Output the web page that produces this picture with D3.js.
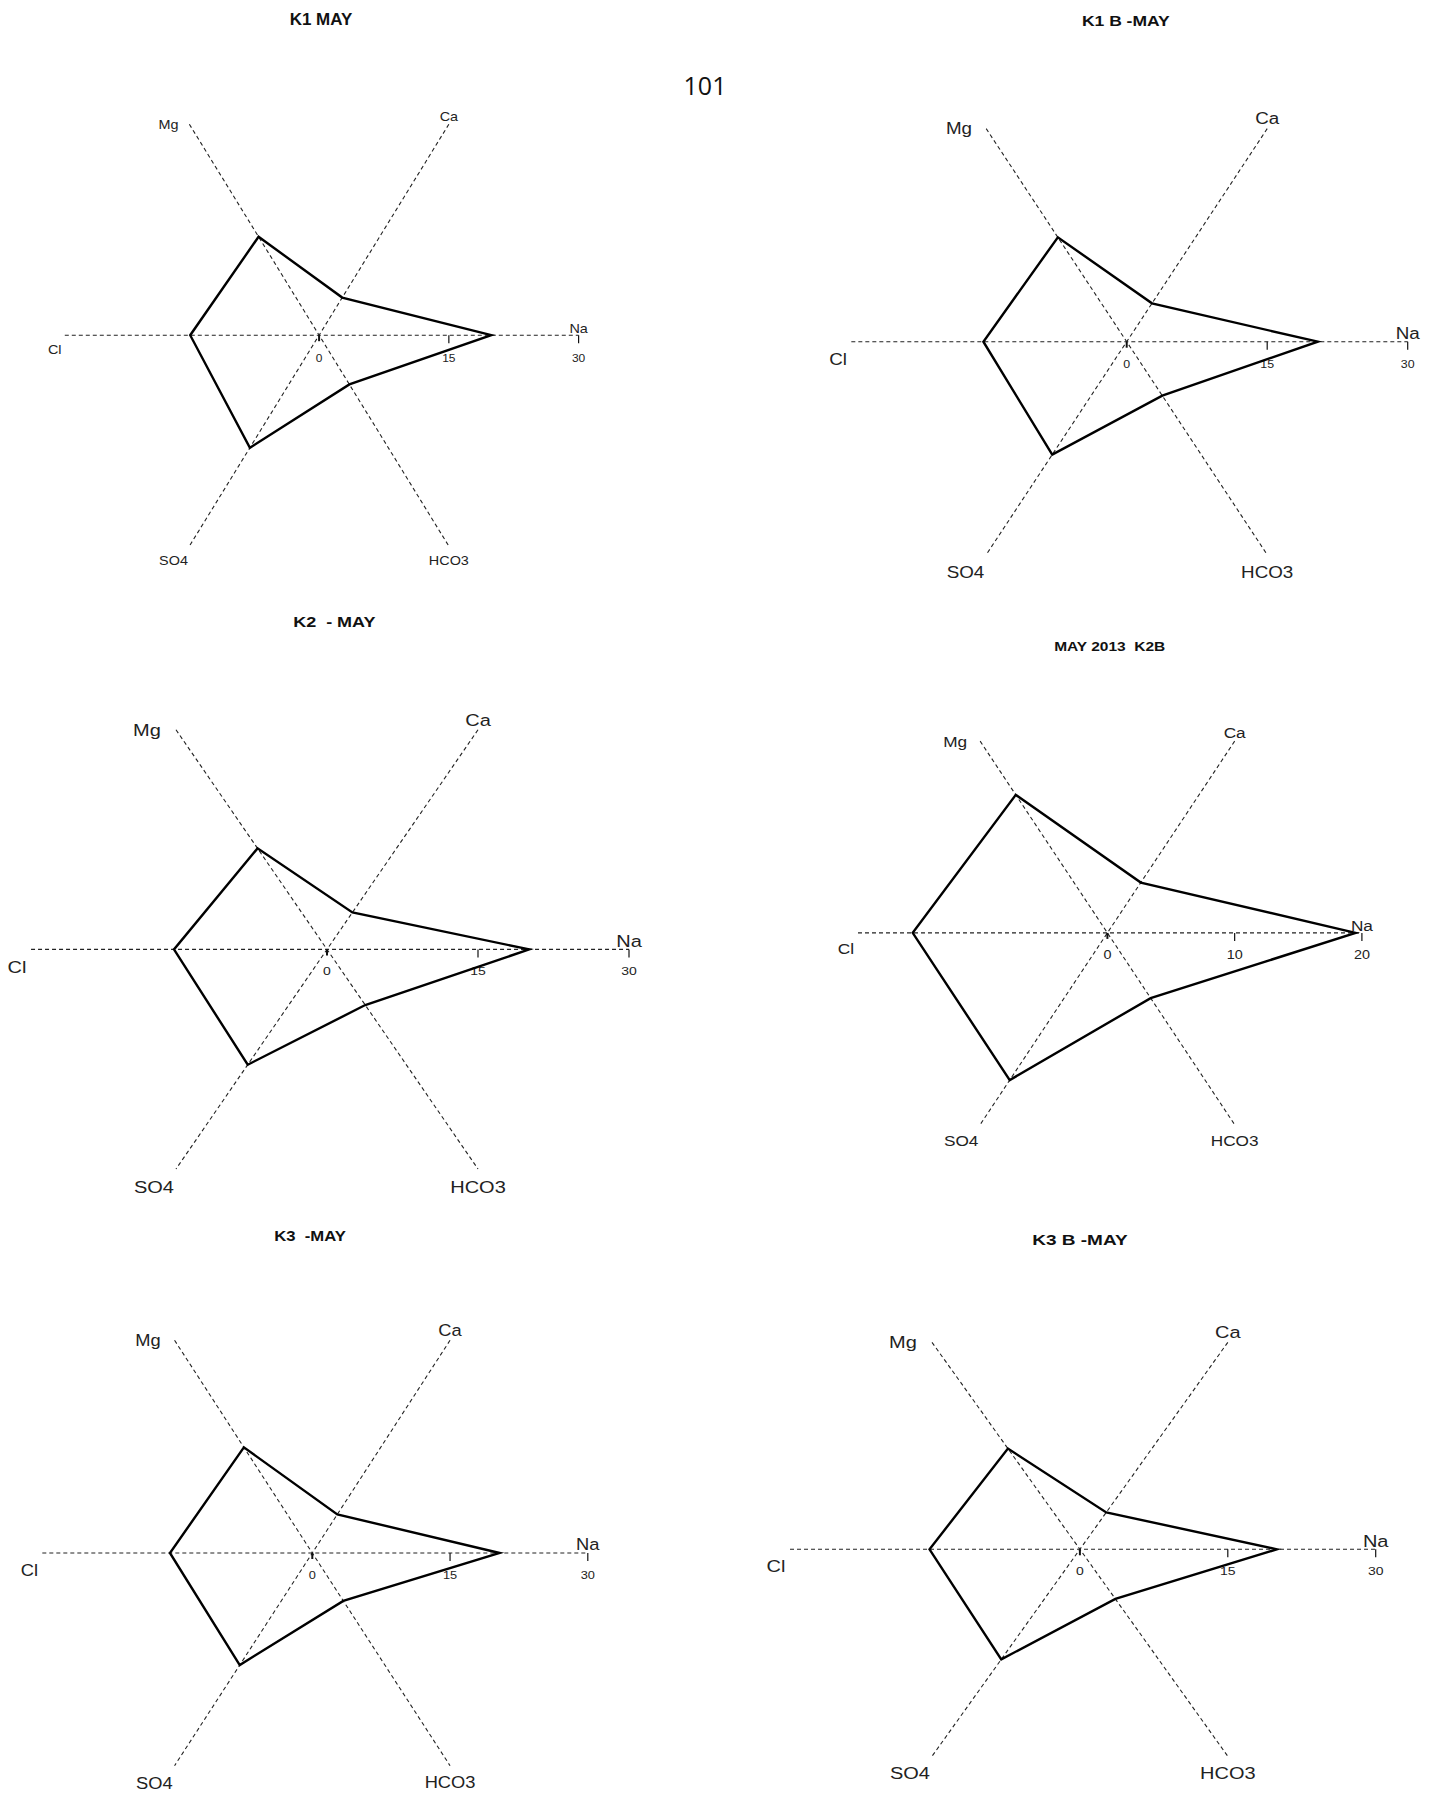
<!DOCTYPE html>
<html>
<head>
<meta charset="utf-8">
<script src="https://cdn.jsdelivr.net/npm/d3@7/dist/d3.min.js"></script>
<style>
  html, body { margin: 0; padding: 0; background: #fff; }
  svg { display: block; }
  text { white-space: pre; }
</style>
</head>
<body>
<svg id="chart" width="1439" height="1794"></svg>
<script>
// ---- data ----
const ions = ["Na", "Ca", "Mg", "Cl", "SO4", "HCO3"];
const titles = ["K1 MAY", "K1 B -MAY", "K2  - MAY", "MAY 2013  K2B", "K3  -MAY", "K3 B -MAY"];
const k1May  = [19.9, 5.35, 14.0, 14.9, 16.0, 7.0];
const k1bMay = [20.4, 5.4, 14.7, 15.3, 15.9, 7.6];
const k2May  = [20.1, 5.05, 13.8, 15.2, 15.75, 7.6];
const k2bMay = [19.5, 5.25, 14.4, 15.3, 15.35, 6.8];
const k3May  = [20.4, 5.45, 14.9, 15.5, 15.8, 6.75];
const k3bMay = [20.0, 5.35, 14.6, 15.25, 15.95, 7.2];
const ticks30 = [0, 15, 30];
const ticks20 = [0, 10, 20];
const pageNumber = "101";

const seriesList = [k1May, k1bMay, k2May, k2bMay, k3May, k3bMay];
const tickList = [ticks30, ticks30, ticks30, ticks20, ticks30, ticks30];

// ---- layout (positions / sizes) ----
const layout = [
  {cx: 319.1,  cy: 335.2,  rx: 259.5, ry: 243.6, fs: 14.4, tfs: 12,   tx: 321,    ty: 19.5,   tts: 17},
  {cx: 1126.7, cy: 341.7,  rx: 281,   ry: 246,   fs: 18.8, tfs: 12.4, tx: 1125.8, ty: 20,     tts: 17.5},
  {cx: 327,    cy: 949.4,  rx: 302,   ry: 253.6, fs: 20,   tfs: 14,   tx: 334.3,  ty: 621.8,  tts: 18},
  {cx: 1107.4, cy: 932.9,  rx: 254.5, ry: 221.4, fs: 17.2, tfs: 14.4, tx: 1109.7, ty: 645.9,  tts: 15.5},
  {cx: 312.3,  cy: 1553,   rx: 275.5, ry: 245.6, fs: 18.3, tfs: 12.8, tx: 310,    ty: 1236,   tts: 16.7},
  {cx: 1079.9, cy: 1549.3, rx: 295.8, ry: 239,   fs: 20,   tfs: 14,   tx: 1079.9, ty: 1239.8, tts: 19}
];
const angles = [0, 60, 120, 180, 240, 300].map(d => d * Math.PI / 180);

const svg = d3.select("#chart");
const FONT = "'Liberation Sans', Arial, sans-serif";

function addText(g, x, y, str, size, k, opts = {}) {
  return g.append("text")
    .attr("transform", `translate(${x},${y}) scale(1,${k})`)
    .attr("text-anchor", "middle")
    .attr("dominant-baseline", "central")
    .attr("font-family", FONT)
    .attr("font-size", size)
    .attr("font-weight", opts.bold ? "bold" : "normal")
    .attr("fill", opts.fill || "#222")
    .text(str);
}

svg.append("text")
  .attr("x", 705).attr("y", 85)
  .attr("text-anchor", "middle").attr("dominant-baseline", "central")
  .attr("font-family", "'Open Sans', 'Noto Sans', sans-serif")
  .attr("font-size", 25).attr("fill", "#111")
  .text(pageNumber);

layout.forEach((L, i) => {
  const values = seriesList[i];
  const ticks = tickList[i];
  const maxV = d3.max(ticks);
  const r = d3.scaleLinear().domain([0, maxV]).range([0, 1]);
  const k = L.ry / L.rx;
  const pt = (v, a) => [L.cx + r(v) * L.rx * Math.cos(a), L.cy - r(v) * L.ry * Math.sin(a)];
  const g = svg.append("g");

  // axes (dashed)
  const axisStyle = s => s.attr("stroke", "#222").attr("stroke-width", 1.1).attr("stroke-dasharray", "4,3").attr("fill", "none");
  const left = pt(maxV * 0.98, angles[3]);
  const right = pt(maxV, angles[0]);
  g.append("line").attr("x1", left[0]).attr("y1", left[1]).attr("x2", right[0]).attr("y2", right[1]).call(axisStyle);
  [[2, 5], [1, 4]].forEach(([a, b]) => {
    const p1 = pt(maxV, angles[a]);
    const p2 = pt(maxV, angles[b]);
    g.append("line").attr("x1", p1[0]).attr("y1", p1[1]).attr("x2", p2[0]).attr("y2", p2[1]).call(axisStyle);
  });

  // ticks on Na axis
  ticks.forEach((t, j) => {
    const x = L.cx + r(t) * L.rx;
    g.append("line").attr("x1", x).attr("x2", x).attr("y1", L.cy).attr("y2", L.cy + (j === 0 ? 6 : 8))
      .attr("stroke", "#111").attr("stroke-width", j === 0 ? 2 : 1.2);
    addText(g, x, L.cy + 22, String(t), L.tfs, k);
  });

  // polygon
  const line = d3.line().curve(d3.curveLinearClosed);
  g.append("path")
    .attr("d", line(values.map((v, j) => pt(v, angles[j]))))
    .attr("fill", "none").attr("stroke", "#000").attr("stroke-width", 2.4)
    .attr("stroke-linejoin", "miter");

  // axis labels
  const fs = L.fs;
  const endMg = pt(maxV, angles[2]);
  const endCa = pt(maxV, angles[1]);
  const endSO4 = pt(maxV, angles[4]);
  const endHCO3 = pt(maxV, angles[5]);
  const labelPos = {
    Na: [right[0], right[1] - 0.5 * fs * k],
    Ca: [endCa[0], endCa[1] - 0.6 * fs * k],
    Mg: [endMg[0] - 1.45 * fs, endMg[1]],
    Cl: [left[0] - 0.7 * fs, left[1] + 1.05 * fs * k],
    SO4: [endSO4[0] - 1.1 * fs, endSO4[1] + 1.07 * fs * k],
    HCO3: [endHCO3[0], endHCO3[1] + 1.05 * fs * k]
  };
  ions.forEach(ion => {
    const p = labelPos[ion];
    addText(g, p[0], p[1], ion, fs, k);
  });

  // title
  addText(g, L.tx, L.ty, titles[i], L.tts, k, {bold: true, fill: "#111"});
});
</script>
</body>
</html>
